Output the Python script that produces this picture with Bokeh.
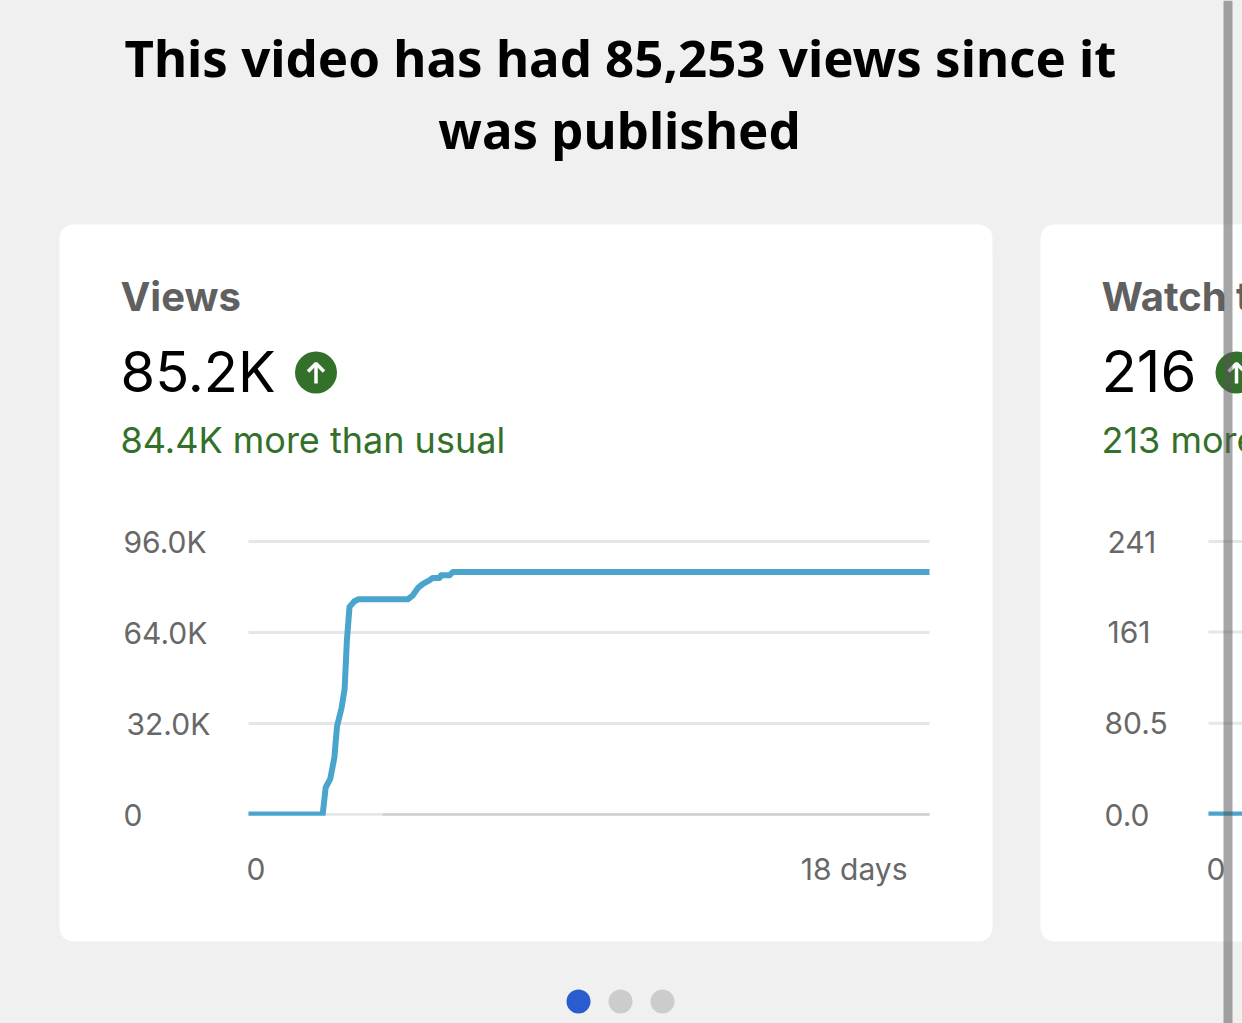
from bokeh.plotting import figure
from bokeh.embed import file_html
from bokeh.resources import INLINE
from bokeh.models import Range1d, BoxAnnotation
from bokeh.core.properties import value

title_lines = ["This video has had 85,253 views since it", "was published"]
views_days = [0, 1.96, 2.04, 2.16, 2.27, 2.34, 2.46, 2.54, 2.60, 2.67, 2.80, 2.91, 4.21, 4.34, 4.48,
              4.61, 4.78, 4.87, 5.05, 5.09, 5.31, 5.40, 18]
views_values = [0, 0, 9500, 12500, 20000, 31000, 37500, 44000, 61000, 73000, 75000, 75700, 75700, 77000, 79700,
                81100, 82300, 83200, 83200, 84100, 84100, 85250, 85250]
views_ticks = [0, 32000, 64000, 96000]
views_labels = ["0", "32.0K", "64.0K", "96.0K"]
watch_days = [0, 1.9]
watch_values = [0, 0]
watch_ticks = [0, 80.5, 161, 241]
watch_labels = ["0.0", "80.5", "161", "241"]

BG = "#f0f0f0"
GREEN = "#33702a"
GREY = "#606060"
TICK = "#686868"
BLUE = "#4aa5cc"
GRID = "#e6e6e6"
X0, XPD, X02 = 249, (930 - 249) / 18, 1209
Y0, YTOP = 814, 541
L, R, T, B = 1, 1243, 0, 1023

p = figure(width=R - L, height=B - T, output_backend="svg", toolbar_location=None,
           x_range=Range1d(L, R), y_range=Range1d(B, T),
           x_axis_location=None, y_axis_location=None, min_border=0,
           background_fill_color=BG, border_fill_color=BG, outline_line_color=None)
p.grid.visible = False


def yr(top):
    k = top / (Y0 - YTOP)
    return Range1d((Y0 - B) * k, (Y0 - T) * k)


p.extra_x_ranges["days"] = Range1d((L - X0) / XPD, (R - X0) / XPD)
p.extra_x_ranges["days2"] = Range1d((L - X02) / XPD, (R - X02) / XPD)
p.extra_y_ranges["views"] = yr(96000)
p.extra_y_ranges["watch"] = yr(241)

for left, right in [(60, 993), (1041, 1500)]:
    p.add_layout(BoxAnnotation(left=left, right=right, top=224, bottom=941, border_radius=14,
                               fill_color="white", fill_alpha=1, line_color=None, level="underlay"))


def txt(x, y, s, size, color, font="Inter", style="normal", align="left"):
    # the text glyph sits 0.4 em below the requested baseline
    p.text([x], [y - 0.4 * size], text=[s], text_font=value(font), text_font_size=f"{size}px", text_color=color,
           text_font_style=style, text_align=align, text_baseline="alphabetic")


txt(621, 77, title_lines[0], 51, "black", "Noto Sans", "bold", "center")
txt(620, 149, title_lines[1], 51, "black", "Noto Sans", "bold", "center")

# Chart 1
p.segment([0] * 4, views_ticks, [18] * 4, views_ticks, x_range_name="days", y_range_name="views",
          line_color=GRID, line_width=3)
p.line(views_days, views_values, x_range_name="days", y_range_name="views", line_color=BLUE, line_width=6,
       line_join="round")
# Chart 2
p.segment([0] * 4, watch_ticks, [18] * 4, watch_ticks, x_range_name="days2", y_range_name="watch",
          line_color=GRID, line_width=3)
p.line(watch_days, watch_values, x_range_name="days2", y_range_name="watch", line_color=BLUE, line_width=6)
# the plot area clips the lower half of the line at zero
p.quad(left=[240, 1200], right=[940, 1243], top=[815.2, 815.2], bottom=[820, 820], fill_color="white", line_color=None)
p.segment([3.55], [0], [18], [0], x_range_name="days", y_range_name="views", line_color="#cfcfcf", line_width=2.5)

for y, s in zip(views_ticks, views_labels):
    p.text([-125 / XPD + (0 if s != "32.0K" else 3 / XPD)], [y], text=[s], x_range_name="days", y_range_name="views",
           y_offset=0, text_font=value("Inter"), text_font_size="30px", text_color=TICK,
           text_baseline="alphabetic")
for y, s in zip(watch_ticks, watch_labels):
    p.text([(-104 + (3 if len(s) == 3 and "." not in s else 0)) / XPD], [y], text=[s],
           x_range_name="days2", y_range_name="watch",
           y_offset=0, text_font=value("Inter"), text_font_size="30px", text_color=TICK,
           text_baseline="alphabetic")

txt(247, 880, "0", 30, TICK)
txt(908, 880, "18 days", 30, TICK, align="right")
txt(1207, 880, "0", 30, TICK)

txt(121, 312, "Views", 40, GREY, style="bold")
txt(121, 394, "85.2K", 56, "black")
txt(121, 454, "84.4K more than usual", 36, GREEN)
txt(1102, 312, "Watch time", 40, GREY, style="bold")
txt(1102, 394, "216", 58, "black")
txt(1102, 454, "213 more than usual", 36, GREEN)

for cx in (316.5, 1237):
    p.circle([cx], [372], radius=21, fill_color=GREEN, line_color=None)
    p.multi_line([[cx, cx], [cx - 8, cx, cx + 8]], [[383, 363], [371, 363, 371]], line_color="white", line_width=3.5)

p.circle([579, 621, 663], [1001] * 3, radius=12, fill_color=["#2a5cce", "#cccccc", "#cccccc"], line_color=None)

p.quad(left=[1224], right=[1233], top=[T], bottom=[B], fill_color="#555555", fill_alpha=0.52, line_color=None)

html = file_html(p, INLINE).replace("<head>", "<head><style>html,body{background:#f0f0f0}</style>", 1)
open("out.html", "w").write(html)
